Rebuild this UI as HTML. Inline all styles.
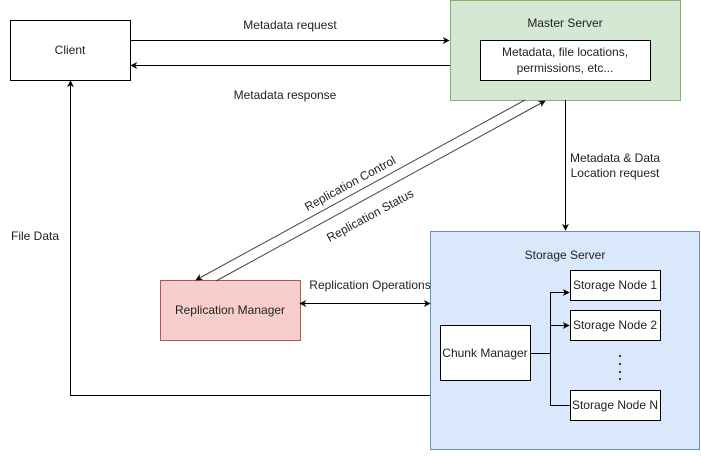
<!DOCTYPE html>
<html><head><meta charset="utf-8"><style>
body{margin:0;background:#fff;}
svg text{font-family:"Liberation Sans",sans-serif;font-size:12px;fill:#222;}
</style></head><body>
<svg width="701" height="451" viewBox="0 0 701 451" xmlns="http://www.w3.org/2000/svg">
<defs>
<marker id="a" viewBox="0 0 10 10" refX="9" refY="5" markerWidth="7" markerHeight="7" orient="auto-start-reverse"><path d="M0,0 L10,5 L0,10 L3,5 z" fill="#000"/></marker>
</defs>
<rect x="430.5" y="231.5" width="269" height="218" fill="#dae8fc" stroke="#6c8ebf"/>
<text x="565" y="259" text-anchor="middle">Storage Server</text>
<rect x="10.5" y="20.5" width="120" height="60" fill="#fff" stroke="#000"/>
<text x="70" y="54" text-anchor="middle">Client</text>
<rect x="450.5" y="0.5" width="230" height="100" fill="#d5e8d4" stroke="#82b366"/>
<text x="565" y="27" text-anchor="middle">Master Server</text>
<rect x="480.5" y="40.5" width="170" height="40" fill="#fff" stroke="#000"/>
<text x="565" y="56" text-anchor="middle">Metadata, file locations,</text>
<text x="565" y="72" text-anchor="middle">permissions, etc...</text>
<rect x="160.5" y="280.5" width="140" height="60" fill="#f8cecc" stroke="#b85450"/>
<text x="230" y="314" text-anchor="middle">Replication Manager</text>
<rect x="440.5" y="325.5" width="90" height="55" fill="#fff" stroke="#000"/>
<text x="485" y="357" text-anchor="middle">Chunk Manager</text>
<rect x="570.5" y="270.5" width="90" height="30" fill="#fff" stroke="#000"/>
<text x="615" y="289" text-anchor="middle">Storage Node 1</text>
<rect x="570.5" y="310.5" width="90" height="30" fill="#fff" stroke="#000"/>
<text x="615" y="329" text-anchor="middle">Storage Node 2</text>
<rect x="570.5" y="390.5" width="90" height="30" fill="#fff" stroke="#000"/>
<text x="615" y="409" text-anchor="middle">Storage Node N</text>
<g fill="#000"><circle cx="620" cy="356" r="1"/><circle cx="620" cy="364" r="1"/><circle cx="620" cy="372" r="1"/><circle cx="620" cy="379" r="1"/></g>
<g stroke="#000" fill="none" stroke-width="1">
<line x1="130" y1="40.5" x2="449" y2="40.5" marker-end="url(#a)"/>
<line x1="450" y1="65.5" x2="131" y2="65.5" marker-end="url(#a)"/>
<line x1="565.5" y1="100" x2="565.5" y2="230" marker-end="url(#a)"/>
<line x1="300" y1="303.5" x2="430" y2="303.5" marker-start="url(#a)" marker-end="url(#a)"/>
<polyline points="430,395.5 70.5,395.5 70.5,81" marker-end="url(#a)"/>
<polyline points="530,353.5 550.5,353.5 550.5,405.5 570,405.5"/>
<polyline points="550.5,353.5 550.5,292.5 569,292.5" marker-end="url(#a)"/>
<line x1="550.5" y1="325.5" x2="569" y2="325.5" marker-end="url(#a)"/>
</g>
<g stroke="#444" fill="none">
<line x1="525" y1="100" x2="196" y2="280" marker-end="url(#a)"/>
<line x1="216" y1="281" x2="545" y2="101" marker-end="url(#a)"/>
</g>
<text x="290" y="29" text-anchor="middle">Metadata request</text>
<text x="285" y="99" text-anchor="middle">Metadata response</text>
<text x="615" y="162" text-anchor="middle">Metadata &amp; Data</text>
<text x="615" y="177" text-anchor="middle">Location request</text>
<text x="35" y="240" text-anchor="middle">File Data</text>
<text x="370" y="289" text-anchor="middle">Replication Operations</text>
<text x="352" y="187" text-anchor="middle" transform="rotate(-28.5 352 187)">Replication Control</text>
<text x="372" y="219" text-anchor="middle" transform="rotate(-28.5 372 219)">Replication Status</text>
</svg>
</body></html>
